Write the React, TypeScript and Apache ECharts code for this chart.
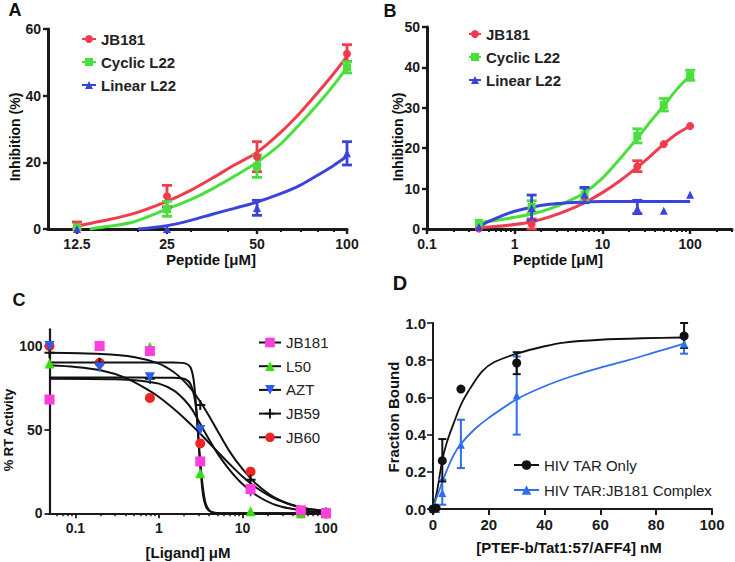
import React, { useEffect, useRef } from 'react';
import * as echarts from 'echarts';

const FONT = '"Liberation Sans", Arial, Helvetica, sans-serif';
const INK = '#1a1a1a';

// ---------- Panel A ----------
const A_X = [12.5, 25, 50, 100];
const A_TICKS = [12.5, 25, 50, 100];
const A_MINOR = [20, 30, 40, 60, 70, 80, 90];
const A_JB181 = [1, 9.8, 21.7, 52.6];
const A_JB181_LO = [0, 6.6, 17.2, 50.3];
const A_JB181_HI = [2.1, 13.1, 26.2, 55.3];
const A_CYC = [0.5, 6, 18.8, 48.5];
const A_CYC_LO = [null, 3.8, 15.5, 46.8];
const A_CYC_HI = [null, 8.3, 22.2, 50.2];
const A_LIN = [0, 0, 6.3, 22.7];
const A_LIN_LO = [null, null, 4.1, 19.2];
const A_LIN_HI = [null, null, 8.6, 26.2];
const A_JB181_FIT = [[12.5, 0.9], [15, 2.3], [19.3, 4.6], [25, 8.3], [30, 11.6], [35.7, 15.4], [42, 19.2], [50, 23], [60, 29], [69.6, 34.8], [80, 41], [90, 46.5], [100, 51.8]];
const A_CYC_FIT = [[13.8, 0], [16, 0.8], [19.3, 2.1], [25, 6], [30, 8.8], [35.7, 12.2], [42, 15.8], [50, 20], [60, 25.5], [69.6, 31.5], [80, 37.5], [90, 43], [100, 48.5]];
const A_LIN_FIT = [[20, 0], [25, 1], [30, 2.6], [35.7, 4.5], [42, 6.2], [50, 8.1], [60, 10.6], [69.6, 13.1], [80, 16.2], [90, 19], [100, 21.8]];

// ---------- Panel B ----------
const B_X = [0.39, 1.56, 6.25, 25, 50, 100];
const B_TICKS = [0.1, 1, 10, 100];
const B_MINOR = [0.2, 0.3, 0.4, 0.5, 0.6, 0.7, 0.8, 0.9, 2, 3, 4, 5, 6, 7, 8, 9, 20, 30, 40, 50, 60, 70, 80, 90, 200, 300];
const B_JB181 = [0.1, 1.2, 8, 15.5, 21, 25.5];
const B_JB181_LO = [null, 0, null, 14.2, null, null];
const B_JB181_HI = [null, 2.5, null, 16.9, null, null];
const B_CYC = [1.5, 5.5, 8.5, 23, 30.7, 38];
const B_CYC_LO = [null, 4, 7, 21.3, 29.2, 36.8];
const B_CYC_HI = [null, 7, 10, 24.8, 32.3, 39.3];
const B_LIN = [0.5, 5.2, 8.5, 5, 4.5, 8.5];
const B_LIN_LO = [null, 2.1, 6.5, 3.8, null, null];
const B_LIN_HI = [null, 8.4, 10.3, 7.1, null, null];
const B_JB181_FIT = [[0.39, 0.3], [0.6, 0.6], [1, 1.1], [1.56, 1.8], [2.5, 3], [4, 4.6], [6.25, 6.5], [10, 9], [16, 12], [25, 15.3], [35, 18], [50, 21], [70, 23.5], [100, 25.5]];
const B_CYC_FIT = [[0.39, 1.6], [0.6, 2.1], [1, 2.9], [1.56, 3.7], [2.5, 5], [4, 6.8], [6.25, 9], [10, 12.6], [16, 17.5], [25, 22.5], [35, 26.5], [50, 30.5], [70, 34.5], [100, 38]];
const B_LIN_FIT = [[0.39, 0.6], [0.5, 1.8], [0.7, 3.2], [1, 4.4], [1.56, 5.4], [2.5, 6.1], [4, 6.5], [6.25, 6.7], [10, 6.8], [25, 6.8], [100, 6.8]];

// ---------- Panel C ----------
const C_X = [0.049, 0.195, 0.78, 3.125, 12.5, 50, 100];
const C_TICKS = [0.1, 1, 10, 100];
const C_MINOR = [0.06, 0.07, 0.08, 0.09, 0.2, 0.3, 0.4, 0.5, 0.6, 0.7, 0.8, 0.9, 2, 3, 4, 5, 6, 7, 8, 9, 20, 30, 40, 50, 60, 70, 80, 90];
const C_Y_TICKS = [0, 50, 100];
const C_JB181 = [68, 100, 97, 31, 14.5, 1.8, 0];
const C_L50 = [89.6, 100, 99.6, 23.9, 1.2, 0, 0];
const C_AZT = [100, 87.3, 81.3, 49.8, 12.7, 1, 0];
const C_JB59 = [96, 90, 80.5, 64.7, 20, 1, 0.5];
const C_JB60 = [100, 90, 69, 41.8, 24.9, 0, 0];
const C_JB181_FIT = [[0.049, 81.2], [0.5, 81.2], [1.5, 81], [2.1, 80], [2.4, 77], [2.65, 70], [2.85, 58], [3.0, 42], [3.15, 29], [3.35, 16], [3.6, 6.5], [4, 1.8], [4.6, 0.3], [5.5, 0], [100, 0]];
const C_L50_FIT = [[0.049, 90.2], [0.5, 90.2], [1.5, 90.1], [2.1, 89.5], [2.4, 87], [2.6, 80], [2.75, 68], [2.9, 52], [3.05, 35], [3.2, 22], [3.4, 10], [3.7, 3.5], [4.2, 0.8], [5, 0.1], [100, 0]];
const C_AZT_FIT = [[0.049, 80.5], [0.3, 80.2], [0.6, 79.3], [1, 77.5], [1.5, 73.5], [2, 68], [2.5, 62], [3, 55], [4, 44], [5, 36], [7, 26], [10, 17.5], [15, 10.5], [25, 5], [50, 1.8], [100, 0.6]];
const C_JB59_FIT = [[0.049, 96], [0.2, 95.3], [0.5, 93.5], [1, 89.5], [1.5, 84.5], [2, 79], [2.5, 73.5], [3, 68], [4, 58], [5, 49.5], [7, 37], [10, 26.5], [15, 17], [25, 9], [50, 3.5], [100, 1.5]];
const C_JB60_FIT = [[0.049, 88.5], [0.1, 87.5], [0.2, 85.5], [0.4, 81], [0.7, 74.5], [1, 69.5], [1.5, 62.5], [2, 57], [3, 48.5], [4, 42], [5, 37], [7, 29.5], [10, 22], [15, 15], [25, 8.5], [50, 3.5], [100, 1.2]];

// ---------- Panel D ----------
const D_X = [0, 1.11, 3.33, 10, 30, 90];
const D_TAR = [0, 0.005, 0.26, 0.645, 0.785, 0.93];
const D_TAR_LO = [null, null, 0.148, null, 0.725, 0.866];
const D_TAR_HI = [null, null, 0.376, null, 0.843, 1.0];
const D_CPX = [0, 0, 0.086, 0.345, 0.61, 0.888];
const D_CPX_LO = [null, null, 0.023, 0.22, 0.4, 0.835];
const D_CPX_HI = [null, null, 0.158, 0.48, 0.82, 0.94];
const D_TAR_FIT = [[0, 0], [1.5, 0.1], [3.3, 0.26], [5, 0.36], [7.4, 0.46], [10, 0.56], [13.4, 0.65], [17.6, 0.74], [22, 0.79], [30, 0.835], [40, 0.875], [47, 0.895], [60, 0.91], [75, 0.918], [90, 0.922]];
const D_CPX_FIT = [[0, 0], [1, 0.05], [2, 0.09], [3.2, 0.14], [5, 0.21], [7.4, 0.29], [10, 0.35], [15, 0.43], [20, 0.49], [30, 0.59], [40, 0.66], [50, 0.715], [60, 0.76], [70, 0.8], [80, 0.845], [90, 0.889]];

// colours
const RED = '#f03c4c';
const GREEN = '#48e03c';
const BLUE = '#3a44dc';
const C_MAG = '#ff3fdc';
const C_GRN = '#36dc10';
const C_BLU = '#2a5cf0';
const C_RED = '#ee2424';
const D_BLU = '#2f6fec';

const PLUS = 'path://M4,0 L6,0 L6,4 L10,4 L10,6 L6,6 L6,10 L4,10 L4,6 L0,6 L0,4 L4,4 Z';
const DOWN_TRI = 'path://M0,0 L10,0 L5,9 Z';

const pts = (xs: number[], ys: (number | null)[]) =>
  xs.map((x, i) => [x, ys[i]]).filter((p) => p[1] != null);
const errs = (xs: number[], lo: (number | null)[], hi: (number | null)[]) =>
  xs.map((x, i) => (lo[i] == null ? null : [x, lo[i], hi[i]])).filter((p) => p != null);

function errorBars(xi: number, yi: number, color: string, data: any[], capW: number, lw: number) {
  return {
    type: 'custom',
    xAxisIndex: xi,
    yAxisIndex: yi,
    data,
    z: 3,
    silent: true,
    clip: false,
    encode: { x: 0, y: [1, 2] },
    renderItem: (_p: any, api: any) => {
      const x = api.value(0);
      const lo = api.coord([x, api.value(1)]);
      const hi = api.coord([x, api.value(2)]);
      const h = capW / 2;
      const style = { stroke: color, lineWidth: lw, fill: null };
      return {
        type: 'group',
        children: [
          { type: 'line', shape: { x1: lo[0], y1: lo[1], x2: hi[0], y2: hi[1] }, style },
          { type: 'line', shape: { x1: lo[0] - h, y1: lo[1], x2: lo[0] + h, y2: lo[1] }, style },
          { type: 'line', shape: { x1: hi[0] - h, y1: hi[1], x2: hi[0] + h, y2: hi[1] }, style },
        ],
      };
    },
  };
}

function curve(name: string, xi: number, yi: number, data: any[], lineColor: string, symColor: string, symbol: string, width: number, smooth = 0.3) {
  return {
    type: 'line',
    name,
    xAxisIndex: xi,
    yAxisIndex: yi,
    data,
    smooth,
    showSymbol: false,
    symbol,
    symbolSize: 9,
    silent: true,
    clip: false,
    z: 2,
    lineStyle: { color: lineColor, width },
    itemStyle: { color: symColor },
  };
}

function dots(xi: number, yi: number, data: any[], color: string, symbol: string, size: number, z = 4) {
  return {
    type: 'scatter',
    xAxisIndex: xi,
    yAxisIndex: yi,
    data,
    symbol,
    symbolSize: size,
    clip: false,
    silent: true,
    z,
    itemStyle: { color, opacity: 1 },
  };
}

const numFmt = (v: number) => `${+Number(v).toPrecision(6)}`;

function logX(grid: number, min: number, max: number, labels: number[], lw: number, fs: number) {
  return {
    type: 'log',
    logBase: 10,
    gridIndex: grid,
    min,
    max,
    position: 'bottom',
    axisLine: { show: true, onZero: false, lineStyle: { color: INK, width: lw } },
    axisTick: { show: true, customValues: labels, length: 5, lineStyle: { color: INK, width: lw * 0.8 } },
    axisLabel: { show: true, customValues: labels, formatter: numFmt, margin: 8, color: INK, fontFamily: FONT, fontSize: fs, fontWeight: 'bold' },
    splitLine: { show: false },
    minorTick: { show: false },
  };
}

function minorX(grid: number, min: number, max: number, ticks: number[], lw: number) {
  return {
    type: 'log',
    logBase: 10,
    gridIndex: grid,
    min,
    max,
    position: 'bottom',
    axisLine: { show: false, onZero: false },
    axisTick: { show: true, customValues: ticks, length: 3, lineStyle: { color: INK, width: lw } },
    axisLabel: { show: false },
    splitLine: { show: false },
  };
}

function valY(grid: number, min: number, max: number, interval: number, lw: number, fs: number, extra: any = {}) {
  return {
    type: 'value',
    gridIndex: grid,
    min,
    max,
    interval,
    axisLine: { show: true, onZero: false, lineStyle: { color: INK, width: lw } },
    axisTick: { show: true, length: 5, lineStyle: { color: INK, width: lw * 0.8 }, ...(extra.tick || {}) },
    axisLabel: { show: true, margin: 7, color: INK, fontFamily: FONT, fontSize: fs, fontWeight: 'bold', ...(extra.label || {}) },
    splitLine: { show: false },
  };
}

const strip = (n: string) => n.slice(2);

function legend(names: string[], left: number, top: number, iw: number, ih: number, gap: number, bold: boolean) {
  return {
    data: names,
    left,
    top,
    orient: 'vertical',
    itemWidth: iw,
    itemHeight: ih,
    itemGap: gap,
    padding: 0,
    selectedMode: false,
    formatter: strip,
    textStyle: { fontFamily: FONT, fontSize: 15, fontWeight: bold ? 'bold' : 'normal', color: '#222' },
  };
}

function label(text: string, x: number, y: number, size: number, rotate = false) {
  return {
    type: 'text',
    x,
    y,
    rotation: rotate ? Math.PI / 2 : 0,
    silent: true,
    style: { text, fill: '#111', fontFamily: FONT, fontSize: size, fontWeight: 'bold', align: 'center', verticalAlign: 'middle' },
  };
}

const option: any = {
  animation: false,
  backgroundColor: '#ffffff',
  grid: [
    { left: 48, top: 29, width: 299, height: 200, outerBoundsMode: 'none', containLabel: false },
    { left: 427, top: 27, width: 305, height: 202, outerBoundsMode: 'none', containLabel: false },
    { left: 49.5, top: 329.3, width: 276.5, height: 184, outerBoundsMode: 'none', containLabel: false },
    { left: 433, top: 323, width: 279, height: 186, outerBoundsMode: 'none', containLabel: false },
  ],
  xAxis: [
    logX(0, 10, 100, A_TICKS, 3, 14),
    minorX(0, 10, 100, A_MINOR, 2),
    logX(1, 0.1, 300, B_TICKS, 3, 14),
    minorX(1, 0.1, 300, B_MINOR, 2),
    logX(2, 0.049, 100, C_TICKS, 2.2, 14),
    minorX(2, 0.049, 100, C_MINOR, 1.5),
    {
      type: 'value',
      gridIndex: 3,
      min: 0,
      max: 100,
      interval: 20,
      position: 'bottom',
      axisLine: { show: true, onZero: false, lineStyle: { color: INK, width: 2 } },
      axisTick: { show: true, length: 6, lineStyle: { color: INK, width: 2 } },
      axisLabel: { show: true, margin: 8, color: INK, fontFamily: FONT, fontSize: 15, fontWeight: 'bold' },
      splitLine: { show: false },
    },
  ],
  yAxis: [
    valY(0, 0, 60, 20, 3, 14),
    valY(1, 0, 50, 10, 3, 14),
    valY(2, 0, 110, 50, 2.2, 14, { label: { customValues: C_Y_TICKS }, tick: { customValues: C_Y_TICKS } }),
    valY(3, 0, 1, 0.2, 2, 15, { label: { formatter: (v: number) => v.toFixed(1), margin: 7 }, tick: { length: 6 } }),
  ],
  legend: [
    legend(['A|JB181', 'A|Cyclic L22', 'A|Linear L22'], 81, 31.5, 14, 10, 8, true),
    legend(['B|JB181', 'B|Cyclic L22', 'B|Linear L22'], 468, 26.5, 12, 10, 8, true),
    legend(['C|JB181', 'C|L50', 'C|AZT', 'C|JB59', 'C|JB60'], 258, 335, 22, 12, 8.7, false),
    legend(['D|HIV TAR Only', 'D|HIV TAR:JB181 Complex'], 513, 457.5, 25, 12, 10, false),
  ],
  graphic: [
    label('A', 15, 10, 18),
    label('B', 390, 11, 18),
    label('C', 19, 300, 18),
    label('D', 400, 283, 20),
    label('Peptide [μM]', 211, 259, 15),
    label('Inhibition (%)', 15, 137, 14, true),
    label('Peptide [μM]', 558, 259, 15),
    label('Inhibition (%)', 398, 137, 14, true),
    label('[Ligand] μM', 188, 552, 15),
    label('% RT Activity', 8, 430, 13, true),
    label('[PTEF-b/Tat1:57/AFF4] nM', 569, 547, 15),
    label('Fraction Bound', 393, 417, 15, true),
  ],
  series: [
    // Panel A
    curve('A|JB181', 0, 0, A_JB181_FIT, RED, RED, 'circle', 3),
    curve('A|Cyclic L22', 0, 0, A_CYC_FIT, GREEN, GREEN, 'rect', 3),
    curve('A|Linear L22', 0, 0, A_LIN_FIT, BLUE, BLUE, 'triangle', 3),
    errorBars(0, 0, RED, errs(A_X, A_JB181_LO, A_JB181_HI), 10, 2.8),
    errorBars(0, 0, GREEN, errs(A_X, A_CYC_LO, A_CYC_HI), 10, 2.8),
    errorBars(0, 0, BLUE, errs(A_X, A_LIN_LO, A_LIN_HI), 10, 2.8),
    dots(0, 0, pts(A_X, A_JB181), RED, 'circle', 8),
    dots(0, 0, pts(A_X, A_CYC), GREEN, 'rect', 8),
    dots(0, 0, pts(A_X, A_LIN), BLUE, 'triangle', 8),
    // Panel B
    curve('B|JB181', 2, 1, B_JB181_FIT, RED, RED, 'circle', 3),
    curve('B|Cyclic L22', 2, 1, B_CYC_FIT, GREEN, GREEN, 'rect', 3),
    curve('B|Linear L22', 2, 1, B_LIN_FIT, BLUE, BLUE, 'triangle', 3),
    errorBars(2, 1, RED, errs(B_X, B_JB181_LO, B_JB181_HI), 10, 2.8),
    errorBars(2, 1, GREEN, errs(B_X, B_CYC_LO, B_CYC_HI), 10, 2.8),
    errorBars(2, 1, BLUE, errs(B_X, B_LIN_LO, B_LIN_HI), 10, 2.8),
    dots(2, 1, pts(B_X, B_JB181), RED, 'circle', 8),
    dots(2, 1, pts(B_X, B_CYC), GREEN, 'rect', 8),
    dots(2, 1, pts(B_X, B_LIN), BLUE, 'triangle', 8),
    // Panel C
    curve('C|JB181', 4, 2, C_JB181_FIT, '#111', C_MAG, 'rect', 2, 0.25),
    curve('C|L50', 4, 2, C_L50_FIT, '#111', C_GRN, 'triangle', 2, 0.25),
    curve('C|AZT', 4, 2, C_AZT_FIT, '#111', C_BLU, DOWN_TRI, 2),
    curve('C|JB59', 4, 2, C_JB59_FIT, '#111', '#111', PLUS, 2),
    curve('C|JB60', 4, 2, C_JB60_FIT, '#111', C_RED, 'circle', 2),
    dots(4, 2, pts(C_X, C_JB60), C_RED, 'circle', 10, 4),
    dots(4, 2, pts(C_X, C_JB59), '#111', PLUS, 10, 5),
    dots(4, 2, pts(C_X, C_AZT), C_BLU, DOWN_TRI, 10, 6),
    dots(4, 2, pts(C_X, C_L50), C_GRN, 'triangle', 10, 7),
    dots(4, 2, pts(C_X, C_JB181), C_MAG, 'rect', 10, 8),
    // Panel D
    curve('D|HIV TAR Only', 6, 3, D_TAR_FIT, '#111', '#111', 'circle', 1.8),
    curve('D|HIV TAR:JB181 Complex', 6, 3, D_CPX_FIT, D_BLU, D_BLU, 'triangle', 1.8),
    errorBars(6, 3, D_BLU, errs(D_X, D_CPX_LO, D_CPX_HI), 8, 2),
    errorBars(6, 3, '#111', errs(D_X, D_TAR_LO, D_TAR_HI), 8, 2),
    dots(6, 3, pts(D_X, D_CPX), D_BLU, 'triangle', 8),
    dots(6, 3, pts(D_X, D_TAR), '#111', 'circle', 9),
  ],
};

export default function App() {
  const ref = useRef<HTMLDivElement>(null);
  useEffect(() => {
    document.body.style.margin = '0';
    const chart = echarts.init(ref.current as HTMLDivElement, null, { renderer: 'svg' });
    chart.setOption(option);
    return () => chart.dispose();
  }, []);
  return <div ref={ref} style={{ width: 735, height: 562, background: '#fff' }} />;
}
